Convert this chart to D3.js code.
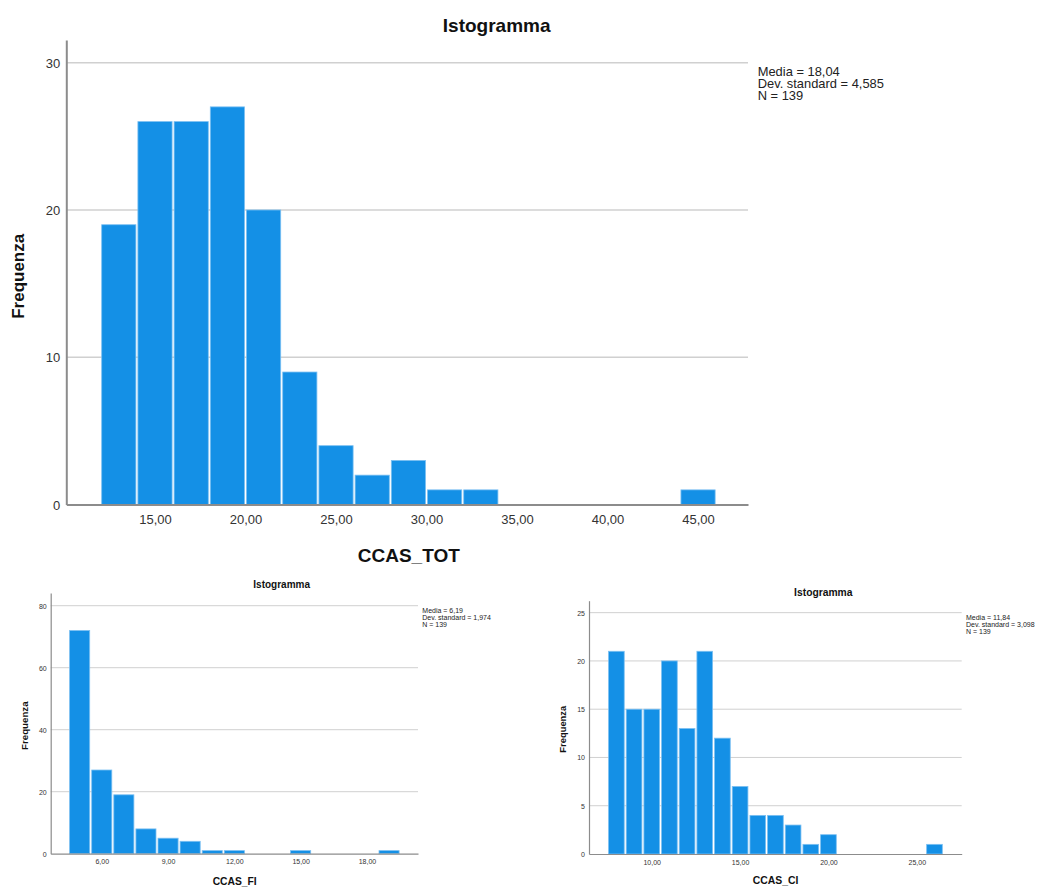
<!DOCTYPE html>
<html>
<head>
<meta charset="utf-8">
<script src="https://cdn.jsdelivr.net/npm/d3@7"></script>
<style>
  body { margin: 0; background: #fff; }
  svg { display: block; font-family: "Liberation Sans", Arial, sans-serif; }
</style>
</head>
<body>
<div id="mainDiv"></div>
<script>
// CCAS_TOT: bins of width 2 starting at 12
const totBinStarts = [12, 14, 16, 18, 20, 22, 24, 26, 28, 30, 32, 34, 36, 38, 40, 42, 44];
const totCounts = [19, 26, 26, 27, 20, 9, 4, 2, 3, 1, 1, 0, 0, 0, 0, 0, 1];
const totXTicks = [15, 20, 25, 30, 35, 40, 45];
const totYTicks = [0, 10, 20, 30];
const totStats = ["Media = 18,04", "Dev. standard = 4,585", "N = 139"];

// CCAS_FI: bins of width 1 centred on integers
const fiBinStarts = [4.5, 5.5, 6.5, 7.5, 8.5, 9.5, 10.5, 11.5, 12.5, 13.5, 14.5, 15.5, 16.5, 17.5, 18.5];
const fiCounts = [72, 27, 19, 8, 5, 4, 1, 1, 0, 0, 1, 0, 0, 0, 1];
const fiXTicks = [6, 9, 12, 15, 18];
const fiYTicks = [0, 20, 40, 60, 80];
const fiStats = ["Media = 6,19", "Dev. standard = 1,974", "N = 139"];

// CCAS_CI: bins of width 1 centred on integers
const ciBinStarts = [7.5, 8.5, 9.5, 10.5, 11.5, 12.5, 13.5, 14.5, 15.5, 16.5, 17.5, 18.5, 19.5, 20.5, 21.5, 22.5, 23.5, 24.5, 25.5];
const ciCounts = [21, 15, 15, 20, 13, 21, 12, 7, 4, 4, 3, 1, 2, 0, 0, 0, 0, 0, 1];
const ciXTicks = [10, 15, 20, 25];
const ciYTicks = [0, 5, 10, 15, 20, 25];
const ciStats = ["Media = 11,84", "Dev. standard = 3,098", "N = 139"];

const barFill = "#1490e6";
const barStroke = "#7cc0f2";
const gridColor = "#d0d0d0";
const axisColor = "#8c8c8c";

const width = 1038;
const height = 888;

const commaFormat = v => d3.format(".2f")(v).replace(".", ",");

const charts = [
  {
    title: "Istogramma", xLabel: "CCAS_TOT", yLabel: "Frequenza",
    binStarts: totBinStarts, binWidth: 2, counts: totCounts,
    xTicks: totXTicks, yTicks: totYTicks, stats: totStats,
    xDomain: [10.1, 47.76], yDomain: [0, 31.54],
    left: 66.3, right: 748, top: 40, bottom: 504.6,
    axisWidth: 2, gridWidth: 1.6,
    tickFont: 13, xTickDy: 19.5, yTickGap: 6,
    titleFont: 19, titleX: 496.7, titleY: 31.5,
    xLabelFont: 19, xLabelX: 408.8, xLabelY: 561.5,
    yLabelFont: 17, yLabelX: 24, yLabelY: 276.3,
    statsFont: 12.9, statsX: 757.7, statsY: 76, statsStep: 12,
  },
  {
    title: "Istogramma", xLabel: "CCAS_FI", yLabel: "Frequenza",
    binStarts: fiBinStarts, binWidth: 1, counts: fiCounts,
    xTicks: fiXTicks, yTicks: fiYTicks, stats: fiStats,
    xDomain: [3.69, 20.31], yDomain: [0, 84.1],
    left: 50.7, right: 418, top: 593, bottom: 853.7,
    axisWidth: 1.2, gridWidth: 1,
    tickFont: 7, xTickDy: 10.5, yTickGap: 4,
    titleFont: 10, titleX: 281.7, titleY: 588.3,
    xLabelFont: 10.3, xLabelX: 234.7, xLabelY: 885,
    yLabelFont: 9.7, yLabelX: 28.2, yLabelY: 725.7,
    statsFont: 7, statsX: 422.3, statsY: 613.3, statsStep: 7,
  },
  {
    title: "Istogramma", xLabel: "CCAS_CI", yLabel: "Frequenza",
    binStarts: ciBinStarts, binWidth: 1, counts: ciCounts,
    xTicks: ciXTicks, yTicks: ciYTicks, stats: ciStats,
    xDomain: [6.45, 27.54], yDomain: [0, 26.24],
    left: 589, right: 961.7, top: 600.7, bottom: 854,
    axisWidth: 1.2, gridWidth: 1,
    tickFont: 7, xTickDy: 10.5, yTickGap: 4,
    titleFont: 10.3, titleX: 823.3, titleY: 595.7,
    xLabelFont: 10.4, xLabelX: 775.5, xLabelY: 884,
    yLabelFont: 9.4, yLabelX: 566, yLabelY: 729.2,
    statsFont: 7, statsX: 966, statsY: 620, statsStep: 7,
  },
];

const svg = d3.select("#mainDiv")
  .append("svg")
  .attr("width", width)
  .attr("height", height)
  .attr("viewBox", [0, 0, width, height]);

function drawHistogram(spec) {
  const g = svg.append("g");

  const x = d3.scaleLinear()
    .domain(spec.xDomain)
    .range([spec.left, spec.right]);

  const y = d3.scaleLinear()
    .domain(spec.yDomain)
    .range([spec.bottom, spec.top]);

  // horizontal gridlines
  g.append("g")
    .selectAll("line")
    .data(spec.yTicks.filter(t => t > 0))
    .join("line")
    .attr("x1", spec.left)
    .attr("x2", spec.right)
    .attr("y1", d => y(d))
    .attr("y2", d => y(d))
    .attr("stroke", gridColor)
    .attr("stroke-width", spec.gridWidth);

  // bars
  const bins = spec.binStarts
    .map((x0, i) => ({ x0, x1: x0 + spec.binWidth, count: spec.counts[i] }))
    .filter(d => d.count > 0);

  g.append("g")
    .selectAll("rect")
    .data(bins)
    .join("rect")
    .attr("x", d => x(d.x0) + 1)
    .attr("y", d => y(d.count))
    .attr("width", d => x(d.x1) - x(d.x0) - 2)
    .attr("height", d => y(0) - y(d.count))
    .attr("fill", barFill)
    .attr("stroke", barStroke)
    .attr("stroke-width", 0.8);

  // axes
  const xAxis = g.append("g")
    .attr("transform", `translate(0,${spec.bottom})`)
    .call(d3.axisBottom(x)
      .tickValues(spec.xTicks)
      .tickFormat(commaFormat)
      .tickSize(0)
      .tickSizeOuter(0));

  const yAxis = g.append("g")
    .attr("transform", `translate(${spec.left},0)`)
    .call(d3.axisLeft(y)
      .tickValues(spec.yTicks)
      .tickFormat(d3.format("d"))
      .tickSize(0)
      .tickSizeOuter(0));

  [xAxis, yAxis].forEach(a => {
    a.select(".domain")
      .attr("stroke", axisColor)
      .attr("stroke-width", spec.axisWidth);
    a.selectAll("text")
      .attr("fill", "#333")
      .attr("font-family", "Liberation Sans, Arial, sans-serif")
      .attr("font-size", spec.tickFont);
  });

  xAxis.selectAll("text")
    .attr("y", spec.xTickDy)
    .attr("dy", 0);

  yAxis.selectAll("text")
    .attr("x", -spec.yTickGap)
    .attr("dy", "0.36em");

  // title and axis labels
  g.append("text")
    .attr("x", spec.titleX)
    .attr("y", spec.titleY)
    .attr("text-anchor", "middle")
    .attr("font-weight", "bold")
    .attr("font-size", spec.titleFont)
    .attr("fill", "#111")
    .text(spec.title);

  g.append("text")
    .attr("x", spec.xLabelX)
    .attr("y", spec.xLabelY)
    .attr("text-anchor", "middle")
    .attr("font-weight", "bold")
    .attr("font-size", spec.xLabelFont)
    .attr("fill", "#111")
    .text(spec.xLabel);

  g.append("text")
    .attr("transform", `translate(${spec.yLabelX},${spec.yLabelY}) rotate(-90)`)
    .attr("text-anchor", "middle")
    .attr("font-weight", "bold")
    .attr("font-size", spec.yLabelFont)
    .attr("fill", "#111")
    .text(spec.yLabel);

  // summary statistics
  g.append("g")
    .selectAll("text")
    .data(spec.stats)
    .join("text")
    .attr("x", spec.statsX)
    .attr("y", (d, i) => spec.statsY + i * spec.statsStep)
    .attr("font-size", spec.statsFont)
    .attr("fill", "#222")
    .text(d => d);
}

charts.forEach(drawHistogram);
</script>
</body>
</html>
